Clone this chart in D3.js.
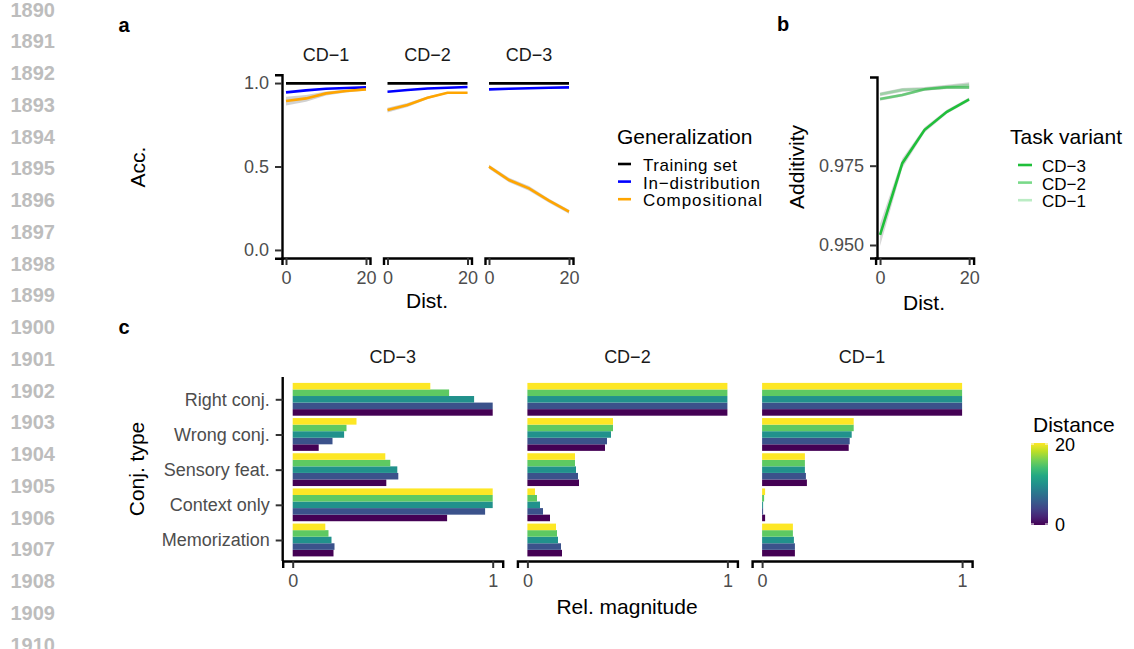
<!DOCTYPE html>
<html>
<head>
<meta charset="utf-8">
<script src="https://cdn.jsdelivr.net/npm/d3@7"></script>
<style>
body{ margin:0; background:#fff; }
svg{ font-family: 'Liberation Sans', Arial, sans-serif; }
</style>
</head>
<body>
<svg id="fig" width="1134" height="649"></svg>
<script>
/**************************************************************************************/
// data

var dists = [0, 5, 10, 15, 20];

// panel a
var acc_facets = ['CD\u22121', 'CD\u22122', 'CD\u22123'];
var gen_series = ['Training set', 'In\u2212distribution', 'Compositional'];
var gen_colors = ['#000000', '#0000ff', '#ffa500'];
var acc_train  = [[0.998, 0.998, 0.998, 0.998, 0.998], [0.998, 0.998, 0.998, 0.998, 0.998], [0.998, 0.998, 0.998, 0.998, 0.998]];
var acc_indist = [[0.944, 0.956, 0.966, 0.970, 0.974], [0.948, 0.958, 0.967, 0.972, 0.976], [0.962, 0.966, 0.969, 0.972, 0.974]];
var acc_comp   = [[0.892, 0.908, 0.938, 0.952, 0.962], [0.838, 0.868, 0.912, 0.942, 0.942], [0.499, 0.419, 0.369, 0.295, 0.229]];
var acc_comp_ci = [[0.026, 0.020, 0.012, 0.008, 0.006], [0.014, 0.012, 0.008, 0.005, 0.004], [0.012, 0.014, 0.014, 0.012, 0.012]];
var acc_ticks = [0, 0.5, 1];
var dist_ticks = [0, 20];

// panel b
var task_variants = ['CD\u22123', 'CD\u22122', 'CD\u22121'];
var task_alpha = [1, 0.6, 0.3];
var add_values = [
    [0.9532, 0.9758, 0.9863, 0.9920, 0.9959],
    [0.9960, 0.9973, 0.9991, 0.9997, 0.9997],
    [0.9975, 0.9989, 0.9992, 0.9999, 1.0005]
];
var add_ci = [[0.0035, 0.0015, 0.0008, 0.0006, 0.0006], [0.0005, 0.0005, 0.0005, 0.0005, 0.0005], [0.0006, 0.0006, 0.0006, 0.0006, 0.0008]];
var add_ticks = [0.950, 0.975];

// panel c  (values per conjunction type, one per distance 0,5,10,15,20)
var conj_types = ['Right conj.', 'Wrong conj.', 'Sensory feat.', 'Context only', 'Memorization'];
var bar_facets = ['CD\u22123', 'CD\u22122', 'CD\u22121'];
var rel_cd3 = [
    [1.000, 1.000, 0.907, 0.782, 0.688],
    [0.130, 0.199, 0.257, 0.269, 0.319],
    [0.468, 0.528, 0.523, 0.488, 0.463],
    [0.772, 0.962, 1.000, 1.000, 1.000],
    [0.204, 0.209, 0.194, 0.179, 0.163]
];
var rel_cd2 = [
    [1.000, 1.000, 1.000, 1.000, 1.000],
    [0.388, 0.398, 0.418, 0.428, 0.428],
    [0.258, 0.253, 0.243, 0.238, 0.238],
    [0.113, 0.078, 0.063, 0.048, 0.038],
    [0.173, 0.168, 0.153, 0.148, 0.143]
];
var rel_cd1 = [
    [1.000, 1.000, 1.000, 1.000, 1.000],
    [0.433, 0.438, 0.448, 0.458, 0.458],
    [0.224, 0.219, 0.214, 0.214, 0.214],
    [0.015, 0.005, 0.005, 0.010, 0.015],
    [0.164, 0.164, 0.159, 0.154, 0.154]
];
var rel_ticks = [0, 1];

var line_numbers = d3.range(1890, 1911);

/**************************************************************************************/

var svg = d3.select('#fig');
var TICK = 18, TITLE = 21, KEY = 17;

function style_axis(g){
    g.select('.domain').attr('stroke', '#000').attr('stroke-width', 2.4);
    g.selectAll('.tick line').attr('stroke', '#333').attr('stroke-width', 2);
    g.selectAll('.tick text').attr('fill', '#4d4d4d').style('font-size', TICK + 'px');
}

function label(x, y, txt, size, opts){
    opts = opts || {};
    var t = svg.append('text')
        .attr('x', x).attr('y', y)
        .attr('dy', '0.35em')
        .attr('text-anchor', opts.anchor || 'middle')
        .attr('fill', opts.fill || '#000')
        .style('font-size', size + 'px')
        .style('font-weight', opts.bold ? 'bold' : 'normal')
        .text(txt);
    if(opts.rotate){ t.attr('transform', 'rotate(-90,' + x + ',' + y + ')'); }
    return t;
}

/**************************************************************************************/
// line numbers down the left margin

line_numbers.forEach(function(n, i){
    label(55, 9.5 + 31.75*i, n, 20, { anchor: 'end', fill: '#bdbdbd', bold: true });
});

label(124, 25, 'a', 20, { bold: true });
label(783, 24, 'b', 20, { bold: true });
label(124, 327, 'c', 20, { bold: true });

/**************************************************************************************/
// panel a

var a_y = d3.scaleLinear().domain([-0.05, 1.05]).range([258.3, 74.7]);

acc_facets.forEach(function(name, fi){
    var left = 282 + fi*101.5;
    var x = d3.scaleLinear().domain([-1, 21]).range([left, left + 88]);
    var g = svg.append('g');

    label(left + 44, 55, name, TICK, { fill: '#1a1a1a' });

    var ribbon = d3.area()
        .x(function(d, i){ return x(dists[i]); })
        .y0(function(d, i){ return a_y(d - acc_comp_ci[fi][i]); })
        .y1(function(d, i){ return a_y(d + acc_comp_ci[fi][i]); });
    g.append('path').attr('d', ribbon(acc_comp[fi])).attr('fill', '#bdbdbd').attr('opacity', 0.7);

    var line = d3.line().x(function(d, i){ return x(dists[i]); }).y(function(d){ return a_y(d); });
    [acc_train[fi], acc_indist[fi], acc_comp[fi]].forEach(function(vals, si){
        g.append('path').attr('d', line(vals))
            .attr('fill', 'none').attr('stroke', gen_colors[si]).attr('stroke-width', 2.6);
    });

    svg.append('g').attr('transform', 'translate(0,258)')
        .call(d3.axisBottom(x).tickValues(dist_ticks).tickSizeOuter(0).tickSize(7).tickPadding(6))
        .call(style_axis);

    if(fi == 0){
        svg.append('g').attr('transform', 'translate(' + left + ',0)')
            .call(d3.axisLeft(a_y).tickValues(acc_ticks).tickFormat(d3.format('.1f')).tickSizeOuter(0).tickSize(7).tickPadding(6))
            .call(style_axis);
    }
});

label(138, 167, 'Acc.', TITLE, { rotate: true });
label(427, 301, 'Dist.', TITLE);

// legend a
label(617, 137, 'Generalization', TITLE, { anchor: 'start' });
gen_series.forEach(function(name, i){
    var y = 164 + 17.6*i;
    svg.append('line').attr('x1', 618).attr('x2', 631).attr('y1', y).attr('y2', y)
        .attr('stroke', gen_colors[i]).attr('stroke-width', 2.6);
    label(643, y + 1, name, KEY, { anchor: 'start' }).attr('textLength', [94, 117, 119][i]);
});

/**************************************************************************************/
// panel b

var b_x = d3.scaleLinear().domain([-1, 21]).range([875.6, 973.6]);
var b_y = d3.scaleLinear().domain([0.950, 0.975]).range([245, 165.7]);
var b_green = '#1fbf3a';

[2, 1, 0].forEach(function(ti){
    var ribbon = d3.area()
        .x(function(d, i){ return b_x(dists[i]); })
        .y0(function(d, i){ return b_y(d - add_ci[ti][i]); })
        .y1(function(d, i){ return b_y(d + add_ci[ti][i]); });
    svg.append('path').attr('d', ribbon(add_values[ti])).attr('fill', '#bdbdbd').attr('opacity', 0.6);
});
[2, 1, 0].forEach(function(ti){
    var line = d3.line().x(function(d, i){ return b_x(dists[i]); }).y(function(d){ return b_y(d); });
    svg.append('path').attr('d', line(add_values[ti]))
        .attr('fill', 'none').attr('stroke', b_green).attr('stroke-opacity', task_alpha[ti]).attr('stroke-width', 2.6);
});

var b_y_axis = d3.scaleLinear().domain([b_y.invert(258), b_y.invert(77)]).range([258, 77]);
svg.append('g').attr('transform', 'translate(0,258)')
    .call(d3.axisBottom(b_x).tickValues(dist_ticks).tickSizeOuter(0).tickSize(7).tickPadding(6))
    .call(style_axis);
svg.append('g').attr('transform', 'translate(877,0)')
    .call(d3.axisLeft(b_y_axis).tickValues(add_ticks).tickFormat(d3.format('.3f')).tickSizeOuter(0).tickSize(7).tickPadding(6))
    .call(style_axis);

label(797, 167, 'Additivity', TITLE, { rotate: true });
label(924, 303, 'Dist.', TITLE);

label(1010, 137, 'Task variant', TITLE, { anchor: 'start' });
task_variants.forEach(function(name, i){
    var y = 165 + 17.6*i;
    svg.append('line').attr('x1', 1018).attr('x2', 1032).attr('y1', y).attr('y2', y)
        .attr('stroke', b_green).attr('stroke-opacity', task_alpha[i]).attr('stroke-width', 2.6);
    label(1042, y + 1, name, KEY, { anchor: 'start' });
});

/**************************************************************************************/
// panel c

var c_y = d3.scalePoint().domain(conj_types).range([399.3, 540]);
var dodge = d3.scaleBand().domain([20, 15, 10, 5, 0]).range([-16.4, 16.4]);
var dist_color = d3.scaleSequential(d3.interpolateViridis).domain([0, 20]);
var rel_data = [rel_cd3, rel_cd2, rel_cd1];

bar_facets.forEach(function(name, fi){
    var left = 282.7 + fi*234.7;
    var x = d3.scaleLinear().domain([-0.05, 1.05]).range([left, left + 220]);

    label(left + 110, 357, name, TICK, { fill: '#1a1a1a' });

    var rows = [];
    conj_types.forEach(function(c, ci){
        dists.forEach(function(d, di){ rows.push({ conj: c, dist: d, value: rel_data[fi][ci][di] }); });
    });

    svg.append('g').selectAll('rect').data(rows).enter().append('rect')
        .attr('x', x(0))
        .attr('y', function(d){ return c_y(d.conj) + dodge(d.dist); })
        .attr('width', function(d){ return x(d.value) - x(0); })
        .attr('height', dodge.bandwidth())
        .attr('fill', function(d){ return dist_color(d.dist); });

    svg.append('g').attr('transform', 'translate(0,561)')
        .call(d3.axisBottom(x).tickValues(rel_ticks).tickFormat(d3.format('d')).tickSizeOuter(0).tickSize(7).tickPadding(6))
        .call(style_axis);

    if(fi == 0){
        var g = svg.append('g').attr('transform', 'translate(' + left + ',0)')
            .call(d3.axisLeft(c_y).tickSizeOuter(0).tickSize(7).tickPadding(6))
            .call(style_axis);
        g.select('.domain').attr('d', 'M0,377V561');
    }
});

label(137, 469, 'Conj. type', TITLE, { rotate: true });
label(627, 607, 'Rel. magnitude', TITLE);

// colour bar
label(1033, 425, 'Distance', TITLE, { anchor: 'start' });
var defs = svg.append('defs');
var grad = defs.append('linearGradient').attr('id', 'vir').attr('x1', 0).attr('x2', 0).attr('y1', 1).attr('y2', 0);
d3.range(0, 1.0001, 0.1).forEach(function(t){
    grad.append('stop').attr('offset', t).attr('stop-color', d3.interpolateViridis(t));
});
var cb_y = d3.scaleLinear().domain([0, 20]).range([524, 444]);
svg.append('rect').attr('x', 1031).attr('y', 443).attr('width', 17).attr('height', 82).attr('fill', 'url(#vir)');
[0, 20].forEach(function(v){
    svg.append('line').attr('x1', 1031).attr('x2', 1034).attr('y1', cb_y(v)).attr('y2', cb_y(v)).attr('stroke', '#fff').attr('stroke-width', 1);
    svg.append('line').attr('x1', 1045).attr('x2', 1048).attr('y1', cb_y(v)).attr('y2', cb_y(v)).attr('stroke', '#fff').attr('stroke-width', 1);
    label(1055, cb_y(v) + 1, v, TICK, { anchor: 'start' });
});
</script>
</body>
</html>
